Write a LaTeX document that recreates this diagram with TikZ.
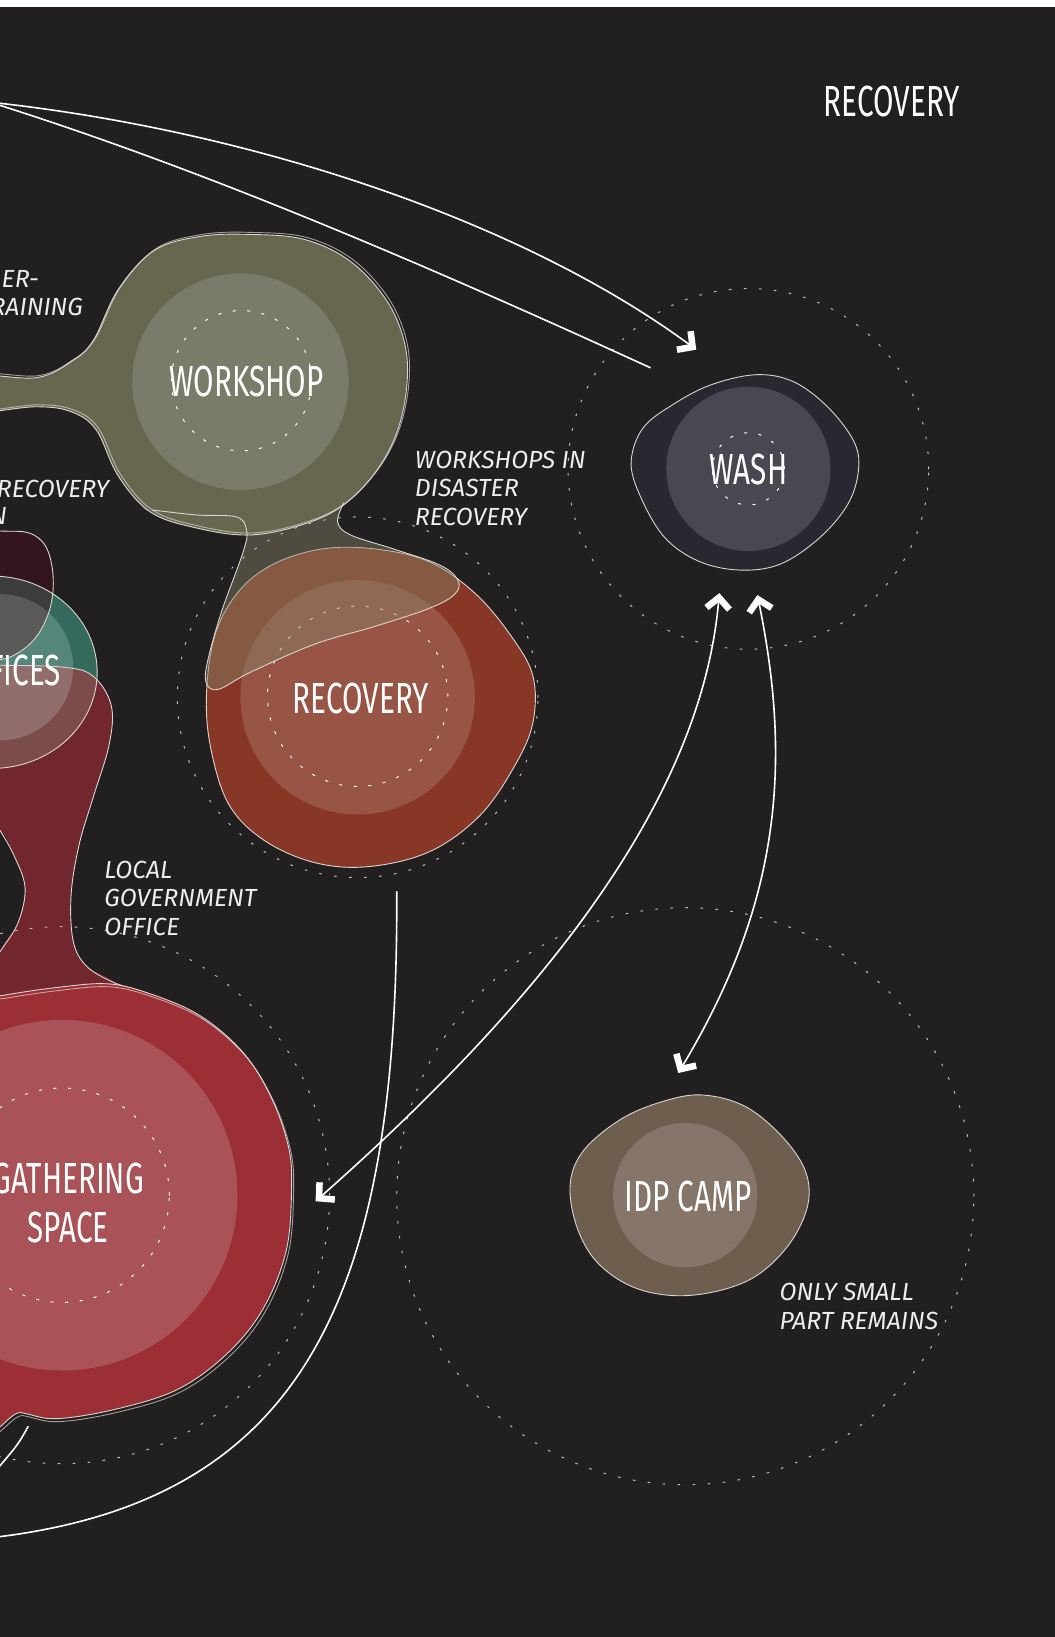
\documentclass[tikz,border=0pt]{standalone}
\usepackage{fontspec}
\setmainfont{Fira Sans}
\newfontfamily\labelfont[FakeStretch=0.68]{Fira Sans}
\newfontfamily\notefont{Fira Sans}
\usetikzlibrary{arrows.meta}

\definecolor{bg}{HTML}{221F20}
\definecolor{rim}{HTML}{D9D6D2}
\definecolor{washout}{HTML}{2A2731}
\definecolor{washin}{HTML}{4A4752}
\definecolor{shopout}{HTML}{67664F}
\definecolor{shopin}{HTML}{7B7B69}
\definecolor{shopneck}{HTML}{858468}
\definecolor{recout}{HTML}{883726}
\definecolor{recin}{HTML}{985444}
\definecolor{gathout}{HTML}{9B2F35}
\definecolor{gathin}{HTML}{A95257}
\definecolor{redneck}{HTML}{72262D}
\definecolor{tealout}{HTML}{336A5B}
\definecolor{tealin}{HTML}{568679}
\definecolor{plum}{HTML}{33151E}
\definecolor{plumteal}{HTML}{3C3D3B}
\definecolor{plumtealin}{HTML}{5A5B58}
\definecolor{redteal}{HTML}{7B4C4A}
\definecolor{redtealin}{HTML}{8F6E6C}
\definecolor{idpout}{HTML}{6E5E4E}
\definecolor{idpin}{HTML}{857669}

% blob outlines (pixel coordinates of the sheet)
\def\washblob{plot[smooth cycle, tension=0.6] coordinates {(630,461) (642,427) (673,403) (710,384) (755,374) (792,381) (826,406) (852,440) (857,468) (847,502) (819,536) (779,563) (738,569) (697,560) (663,536) (639,495)}}
\def\idpblob{plot[smooth cycle, tension=0.6] coordinates {(569,1184) (582,1149) (620,1117) (663,1099) (702,1093) (745,1105) (783,1137) (805,1172) (805,1208) (783,1248) (745,1279) (689,1293) (638,1287) (599,1263) (577,1228)}}
\def\shopblob{plot[smooth cycle, tension=0.6] coordinates {(-30,376) (36,377) (71,361) (93,340) (118,289) (154,250) (200,236) (250,234) (304,239) (350,261) (386,300) (404,343) (406,386) (396,432) (375,471) (343,504) (304,523) (250,534) (196,527) (150,511) (118,475) (96,429) (71,411) (36,406) (-30,410)}}
\def\shoplobe{plot[smooth cycle, tension=0.6] coordinates {(143,507) (200,480) (330,480) (339,507) (337,521) (350,534) (393,548) (439,564) (457,579) (454,593) (429,607) (375,625) (314,643) (250,671) (218,688) (206,682) (207,661) (221,611) (243,550) (246,529) (236,516) (196,514)}}
\def\shoplobeline{plot[smooth, tension=0.6] coordinates {(343,502) (337,521) (350,534) (393,548) (439,564) (457,579) (454,593) (429,607) (375,625) (314,643) (250,671) (218,688) (206,682) (207,661) (221,611) (243,550) (246,529) (236,516) (196,514) (152,509)}}
\def\recblob{plot[smooth cycle, tension=0.6] coordinates {(206,696) (214,636) (236,593) (271,564) (321,548) (375,548) (429,561) (475,593) (511,636) (532,675) (532,721) (514,764) (479,814) (429,850) (368,865) (314,861) (264,839) (229,804) (211,750)}}
\def\plumblob{plot[smooth cycle, tension=0.6] coordinates {(-30,528) (0,530) (29,532) (46,546) (53,575) (50,607) (36,636) (14,654) (-10,660) (-30,660)}}
\def\tealblob{(-8,671) ellipse [x radius=105pt, y radius=96pt]}
\def\tealcore{(0,666) circle [radius=73pt]}
\def\neckblob{plot[smooth cycle, tension=0.6] coordinates {(-30,662) (0,664) (64,666) (93,675) (111,704) (109,743) (93,796) (79,843) (71,893) (73,939) (86,964) (114,980) (150,1010) (120,1040) (20,1040) (-10,995) (0,950) (18,921) (25,886) (14,854) (0,829) (-30,820)}}
\def\neckright{plot[smooth, tension=0.6] coordinates {(-10,664) (0,664) (64,666) (93,675) (111,704) (109,743) (93,796) (79,843) (71,893) (73,939) (86,964) (112,980) (136,988)}}
\def\neckleft{plot[smooth, tension=0.6] coordinates {(-12,812) (0,829) (14,854) (25,886) (18,921) (0,950) (-12,968)}}
\def\gathblob{plot[smooth cycle, tension=0.6] coordinates {(-30,1000) (0,994) (54,986) (107,982) (150,992) (200,1014) (243,1051) (271,1096) (288,1145) (291,1186) (286,1247) (264,1304) (229,1349) (179,1386) (118,1406) (57,1416) (21,1410) (-30,1400)}}

\begin{document}
\begin{tikzpicture}[x=1pt, y=-1pt, line join=round, line cap=round,
    >={Straight Barb[length=11pt, width=23pt, line width=6.5pt]},
    edge/.style={draw=rim, line width=0.9pt},
    ring/.style={draw=white, line width=1pt, dash pattern=on 2.5pt off 12pt},
    halo/.style={draw=white!72!bg, line width=1pt, dash pattern=on 2pt off 13pt},
    link/.style={draw=white, line width=1.6pt},
    tag/.style={text=white, inner sep=0pt, font=\labelfont\fontsize{43.5}{49}\selectfont},
    note/.style={text=white!92!bg, inner sep=0pt, align=left, font=\notefont\itshape\fontsize{24.7}{28.5}\selectfont}]

    % sheet
    \useasboundingbox (0,0) rectangle (1053,1634);
    \fill[bg] (-10,7) rectangle (1065,1650);
    \fill[white] (-10,-10) rectangle (1065,7);
    \clip (0,7) rectangle (1053,1637);

    % recovery
    \fill[recout] \recblob;
    \fill[recin] (357,696) circle [radius=117pt];
    \draw[ring] (357,695) circle [radius=90pt];
    \draw[edge] \recblob;

    % workshop with its necks
    \fill[shopneck, fill opacity=0.45] \shoplobe;
    \fill[shopout] \shopblob;
    \fill[shopin] (240,381) circle [radius=108pt];
    \draw[ring] (241,380) circle [radius=70pt];
    \draw[edge] \shoplobeline;
    \draw[edge] \shopblob;
    \draw[edge, opacity=0.7, shift={(2,-2)}] \shopblob;

    % offices and the neck down to the gathering space
    \fill[tealout] \tealblob;
    \fill[tealin] \tealcore;
    \fill[plum] \plumblob;
    \begin{scope}
        \clip \plumblob;
        \fill[plumteal] \tealblob;
        \fill[plumtealin] \tealcore;
    \end{scope}
    \fill[redneck] \neckblob;
    \begin{scope}
        \clip \neckblob;
        \fill[redteal] \tealblob;
        \fill[redtealin] \tealcore;
    \end{scope}
    \draw[edge] \tealblob;
    \draw[edge] \plumblob;
    \draw[edge] \neckright;
    \draw[edge] \neckleft;

    % gathering space
    \fill[gathout] \gathblob;
    \fill[gathin] (62,1193) circle [radius=175pt];
    \draw[ring] (62,1193) circle [radius=107pt];
    \draw[edge] \gathblob;
    \draw[edge, opacity=0.7, shift={(2,3)}] \gathblob;

    % wash
    \fill[washout] \washblob;
    \fill[washin] (747,468) circle [radius=82pt];
    \draw[ring] (747,468) circle [radius=36pt];
    \draw[edge] \washblob;

    % idp camp
    \fill[idpout] \idpblob;
    \fill[idpin] (684,1193) circle [radius=72pt];
    \draw[edge] \idpblob;

    % dotted reach circles
    \draw[halo] (747,468) circle [radius=180pt];
    \draw[halo] (357,696) circle [radius=180pt];
    \draw[halo] (61,1193) circle [radius=268pt];
    \draw[halo] (684,1194) circle [radius=288pt];

    % connector ends
    \coordinate (src) at (-10,102);
    \coordinate (wash-nw) at (695,349);
    \coordinate (wash-stub) at (649,367);
    \coordinate (wash-s1) at (718,592);
    \coordinate (wash-s2) at (756,594);
    \coordinate (gath-e) at (315,1199);
    \coordinate (idp-n) at (677,1071);
    \coordinate (rec-s) at (396,890);
    \coordinate (exit-sw) at (-10,1535);
    \coordinate (stub-a) at (28,1424);
    \coordinate (stub-b) at (-6,1470);

    % connectors
    \draw[link, ->] (src) .. controls (250,130) and (520,220) .. (wash-nw);
    \draw[link] (src) .. controls (200,168) and (420,262) .. (wash-stub);
    \draw[link, <->] (wash-s1) .. controls (700,800) and (540,1000) .. (gath-e);
    \draw[link, <->] (wash-s2) .. controls (790,760) and (780,900) .. (idp-n);
    \draw[link] (rec-s) .. controls (398,1300) and (300,1500) .. (exit-sw);
    \draw[link] (stub-a) .. controls (18,1442) .. (stub-b);

    % labels
    \node[tag] (title) at (890,101) {RECOVERY};
    \node[tag] (workshop) at (246,381) {WORKSHOP};
    \node[tag] (recovery) at (360,697) {RECOVERY};
    \node[tag] (wash) at (747,469) {WASH};
    \node[tag] (idp) at (687,1194) {IDP CAMP};
    \node[tag, anchor=east] (offices) at (61,669.5) {OFFICES};
    \node[tag, align=center] (gathering) at (68,1200.5) {GATHERING\\SPACE};

    % notes
    \node[note, anchor=base east] (note-er) at (39,287) {ER-};
    \node[note, anchor=base east] (note-training) at (83,315) {RAINING};
    \node[note, anchor=base east] (note-recovery) at (109,497) {RECOVERY};
    \node[note, anchor=base east] (note-n) at (7,524) {N};
    \node[note, anchor=north west] (note-workshops) at (414,450) {WORKSHOPS IN\\DISASTER\\RECOVERY};
    \node[note, anchor=north west] (note-local) at (104,859) {LOCAL\\GOVERNMENT\\OFFICE};
    \node[note, anchor=north west] (note-idp) at (778,1281) {ONLY SMALL\\PART REMAINS};
\end{tikzpicture}
\end{document}
